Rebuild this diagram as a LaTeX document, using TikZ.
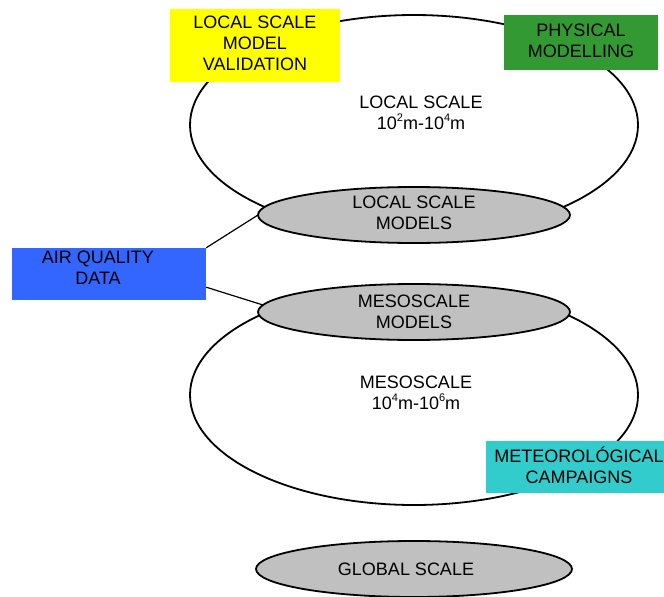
\documentclass[tikz,border=0pt]{standalone}
\usepackage{fontspec}
\setmainfont{Liberation Sans}
\usetikzlibrary{shapes.geometric,calc}
\definecolor{ygold}{HTML}{FFFF00}
\definecolor{pgreen}{HTML}{339933}
\definecolor{aqblue}{HTML}{3366FF}
\definecolor{mcyan}{HTML}{33CCCC}
\definecolor{lgray}{HTML}{C0C0C0}
\newcommand{\supx}[1]{\raisebox{0.42em}{\fontsize{11}{11}\selectfont #1}}
\begin{document}
\begin{tikzpicture}[x=1pt,y=-1pt,
  bigell/.style={ellipse,draw=black,line width=1.8pt,fill=white,minimum width=448pt,minimum height=220pt,inner sep=0pt},
  grayell/.style={ellipse,draw=black,line width=1.8pt,fill=lgray,minimum width=312pt,minimum height=56pt,inner sep=0pt},
  box/.style={rectangle,draw=none,inner sep=0pt},
  txt/.style={align=center,inner sep=0pt,font=\fontsize{18}{21}\selectfont},
  conn/.style={line width=1.2pt,draw=black}]
\useasboundingbox (0,0) rectangle (664,597);
% big scale ellipses
\node[bigell] (meso) at (414,395) {};
\node[bigell] (local) at (414,125) {};
% boxes
\node[box,fill=ygold,minimum width=170pt,minimum height=73pt] (val) at (255,45.5) {};
\node[box,fill=pgreen,minimum width=154pt,minimum height=55pt] (phys) at (581,42.5) {};
\node[box,fill=aqblue,minimum width=194pt,minimum height=52pt] (aq) at (109,274) {};
\node[box,fill=mcyan,minimum width=178pt,minimum height=52pt] (met) at (575,467) {};
% connectors
\draw[conn] (aq.north east) -- (258,215) coordinate (c1);
\draw[conn] ($(aq.south east)+(0,-13)$) -- (263,305) coordinate (c2);
% gray model ellipses
\node[grayell] (lsm) at (414,215) {};
\node[grayell] (msm) at (414,312) {};
\node[grayell,minimum width=316pt] (glob) at (414,569) {};
% texts
\node[txt] at (255,43) {LOCAL SCALE\\MODEL\\VALIDATION};
\node[txt] at (581,41) {PHYSICAL\\MODELLING};
\node[txt] at (98,268) {AIR QUALITY\\DATA};
\node[txt] at (579,465.5) {METEOROL\'OGICAL\\CAMPAIGNS};
\node[txt] at (421,112.5) {LOCAL SCALE\\10\supx{2}m-10\supx{4}m};
\node[txt] at (414,213) {LOCAL SCALE\\MODELS};
\node[txt] at (414,312) {MESOSCALE\\MODELS};
\node[txt] at (416,392.5) {MESOSCALE\\10\supx{4}m-10\supx{6}m};
\node[txt] at (406,569) {GLOBAL SCALE};
\end{tikzpicture}
\end{document}
